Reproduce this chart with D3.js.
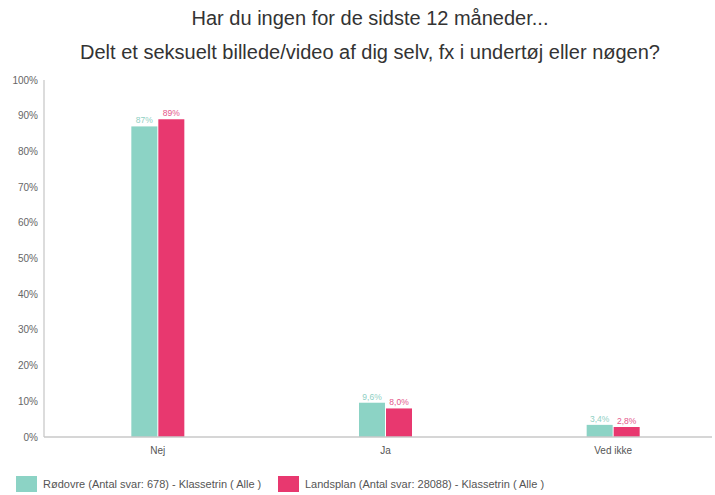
<!DOCTYPE html>
<html>
<head>
<meta charset="utf-8">
<script src="https://cdn.jsdelivr.net/npm/d3@7"></script>
<style>
  body { margin: 0; background: #fff; }
  text { font-family: "Liberation Sans", Arial, sans-serif; }
</style>
</head>
<body>
<div id="chart"></div>
<script>
// chart data
const titleLines = ["Har du ingen for de sidste 12 måneder...", "Delt et seksuelt billede/video af dig selv, fx i undertøj eller nøgen?"];
const categories = ["Nej", "Ja", "Ved ikke"];
const seriesNames = ["Rødovre (Antal svar: 678)  - Klassetrin ( Alle )", "Landsplan (Antal svar: 28088)  - Klassetrin ( Alle )"];
const rodovre = [87, 9.6, 3.4];
const landsplan = [89, 8.0, 2.8];
const valueLabels = [["87%", "9,6%", "3,4%"], ["89%", "8,0%", "2,8%"]];
const yTicks = [0, 10, 20, 30, 40, 50, 60, 70, 80, 90, 100];

const width = 715, height = 495;
const colors = ["#8cd3c5", "#e8386f"];
const labelColors = ["#8fcfc3", "#e4568a"];

const svg = d3.select("#chart").append("svg")
    .attr("width", width)
    .attr("height", height);

// title
svg.selectAll("text.title")
    .data(titleLines)
    .join("text")
    .classed("title", true)
    .attr("x", 370)
    .attr("y", (d, i) => 25 + i * 34)
    .attr("text-anchor", "middle")
    .attr("font-size", 20)
    .attr("fill", "#333")
    .text(d => d);

const x = d3.scaleBand().domain(categories).range([44, 727]);
const y = d3.scaleLinear().domain([0, 100]).range([437, 80]);
const series = [rodovre, landsplan];
const barW = 26, gap = 1;

// y axis
svg.append("line")
    .attr("x1", 44).attr("x2", 44)
    .attr("y1", y(100)).attr("y2", y(0))
    .attr("stroke", "#d0d0d0").attr("stroke-width", 1.5);

svg.selectAll("text.ytick")
    .data(yTicks)
    .join("text")
    .classed("ytick", true)
    .attr("x", 38)
    .attr("y", d => y(d) + 3.5)
    .attr("text-anchor", "end")
    .attr("font-size", 10)
    .attr("fill", "#666")
    .text(d => d + "%");

// bars
series.forEach((vals, s) => {
    const xOff = s === 0 ? -barW - gap / 2 : gap / 2;
    svg.selectAll("rect.s" + s)
        .data(categories)
        .join("rect")
        .attr("class", "s" + s)
        .attr("x", d => x(d) + x.bandwidth() / 2 + xOff)
        .attr("y", (d, i) => y(vals[i]))
        .attr("width", barW)
        .attr("height", (d, i) => y(0) - y(vals[i]))
        .attr("fill", colors[s]);

    svg.selectAll("text.v" + s)
        .data(categories)
        .join("text")
        .attr("class", "v" + s)
        .attr("x", d => x(d) + x.bandwidth() / 2 + xOff + barW / 2)
        .attr("y", (d, i) => y(vals[i]) - 3)
        .attr("text-anchor", "middle")
        .attr("font-size", 8.5)
        .attr("fill", labelColors[s])
        .text((d, i) => valueLabels[s][i]);
});

// x axis
svg.append("line")
    .attr("x1", 44).attr("x2", 712)
    .attr("y1", y(0)).attr("y2", y(0))
    .attr("stroke", "#c8c8c8").attr("stroke-width", 1.5);

svg.selectAll("text.xtick")
    .data(categories)
    .join("text")
    .classed("xtick", true)
    .attr("x", d => x(d) + x.bandwidth() / 2)
    .attr("y", 454)
    .attr("text-anchor", "middle")
    .attr("font-size", 10)
    .attr("fill", "#555")
    .text(d => d);

// legend
const legendX = [16, 278];
const legend = svg.selectAll("g.legend")
    .data(seriesNames)
    .join("g")
    .classed("legend", true)
    .attr("transform", (d, i) => `translate(${legendX[i]}, 476)`);

legend.append("rect")
    .attr("width", 21).attr("height", 16)
    .attr("fill", (d, i) => colors[i]);

legend.append("text")
    .attr("x", 27)
    .attr("y", 12)
    .attr("font-size", 11)
    .attr("fill", "#555")
    .text(d => d);
</script>
</body>
</html>
